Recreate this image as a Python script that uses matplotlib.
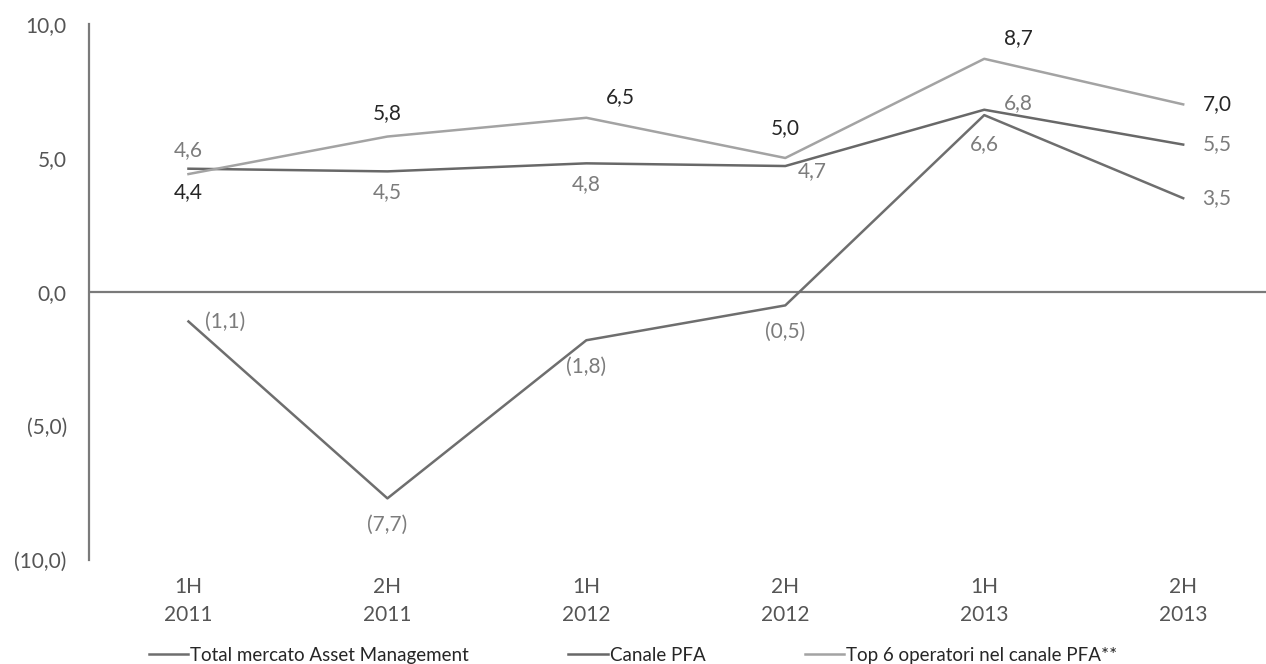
import matplotlib.pyplot as plt

plt.rcParams['font.family'] = ['Lato', 'DejaVu Sans']

# data
periods = ["1H\n2011", "2H\n2011", "1H\n2012", "2H\n2012", "1H\n2013", "2H\n2013"]
total_mercato = [-1.1, -7.7, -1.8, -0.5, 6.6, 3.5]
canale_pfa = [4.6, 4.5, 4.8, 4.7, 6.8, 5.5]
top6_pfa = [4.4, 5.8, 6.5, 5.0, 8.7, 7.0]
series_names = ["Total mercato Asset Management", "Canale PFA",
                "Top 6 operatori nel canale PFA**"]
yticks = [-10, -5, 0, 5, 10]


def fmt(v):
    s = f"{abs(v):.1f}".replace(".", ",")
    return f"({s})" if v < 0 else s


fig = plt.figure(figsize=(12.66, 6.64), dpi=100)
ax = fig.add_axes([0.0703, 0.1566, 0.935, 0.8073])

x = list(range(len(periods)))
c_total = "#6e6e6e"
c_canale = "#686868"
c_top = "#a3a3a3"

ax.plot(x, total_mercato, color=c_total, lw=1.8, label=series_names[0])
ax.plot(x, canale_pfa, color=c_canale, lw=1.8, label=series_names[1])
ax.plot(x, top6_pfa, color=c_top, lw=1.8, label=series_names[2])

ax.axhline(0, color="#7a7a7a", lw=1.6, zorder=0)

fs = 15
ax.set_xlim(-0.5, 5.45)
ax.set_ylim(-10, 10)
ax.set_yticks(yticks)
ax.set_yticklabels([fmt(v) for v in yticks], fontsize=fs, color="#555555")
ax.set_xticks(x)
ax.set_xticklabels(periods, fontsize=fs, color="#555555", linespacing=1.55)
ax.tick_params(length=0, axis="y", pad=16)
ax.tick_params(length=0, axis="x", pad=12)

for sp in ["top", "right", "bottom"]:
    ax.spines[sp].set_visible(False)
ax.spines["left"].set_color("#7a7a7a")
ax.spines["left"].set_linewidth(1.6)

# data labels: (dx points, dy points, ha, va)
lab_gray = "#7c7c7c"
lab_dark = "#262626"
pos_total = [(12, 0, "left", "center"), (0, -12, "center", "top"),
             (0, -12, "center", "top"), (0, -12, "center", "top"),
             (0, -14, "center", "top"), (14, 0, "left", "center")]
pos_canale = [(0, 6, "center", "bottom"), (0, -8, "center", "top"),
              (0, -8, "center", "top"), (9, -4, "left", "center"),
              (14, 5, "left", "center"), (14, 0, "left", "center")]
pos_top = [(0, -6, "center", "top"), (0, 10, "center", "bottom"),
           (14, 8, "left", "bottom"), (0, 14, "center", "bottom"),
           (14, 8, "left", "bottom"), (14, 0, "left", "center")]

for vals, poss, col in [(total_mercato, pos_total, lab_gray),
                        (canale_pfa, pos_canale, lab_gray),
                        (top6_pfa, pos_top, lab_dark)]:
    for xi, v, (dx, dy, ha, va) in zip(x, vals, poss):
        ax.annotate(fmt(v), (xi, v), xytext=(dx, dy), textcoords="offset points",
                    ha=ha, va=va, fontsize=fs, color=col)

fig.legend(loc="lower center", bbox_to_anchor=(0.5, -0.025), ncol=3, frameon=False,
           fontsize=13.5, handlelength=2.1, handletextpad=0.1, columnspacing=5.3,
           labelcolor="#262626")

fig.savefig("out.png", dpi=100)
